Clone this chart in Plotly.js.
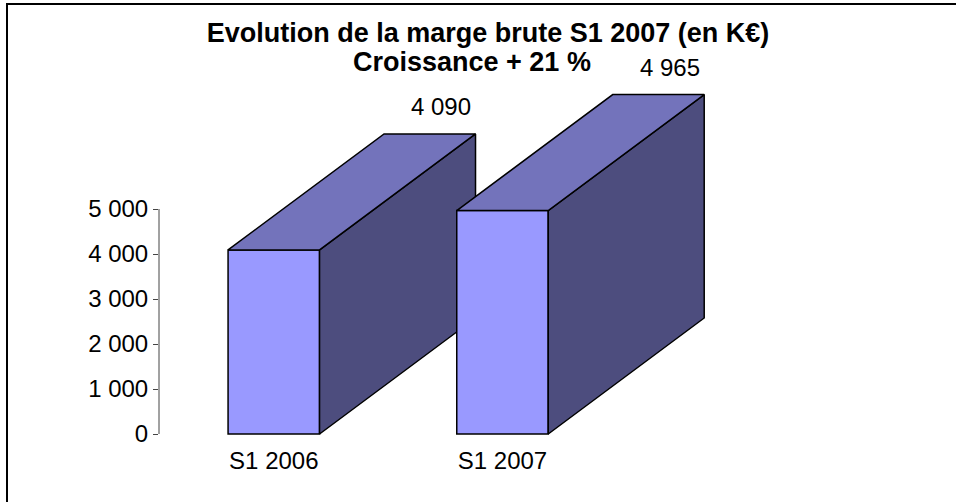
<!DOCTYPE html>
<html>
<head>
<meta charset="utf-8">
<script src="https://cdn.plot.ly/plotly-3.0.1.min.js"></script>
<style>
  html, body { margin: 0; padding: 0; background: #fff; }
  #wrap { position: relative; width: 956px; height: 502px; overflow: hidden; }
  #frame { position: absolute; left: 6px; top: 3px; width: 960px; height: 520px;
           border-left: 2px solid #000; border-top: 2px solid #000; }
  #chart { position: absolute; left: 0; top: 0; width: 956px; height: 502px; }
</style>
</head>
<body>
<div id="wrap">
  <div id="frame"></div>
  <div id="chart"></div>
</div>
<script>
// ---- data ----
const categories = ['S1 2006', 'S1 2007'];
const values = [4090, 4965];
const valueLabels = ['4 090', '4 965'];
const yTickVals = [0, 1000, 2000, 3000, 4000, 5000];
const yTickText = ['0', '1 000', '2 000', '3 000', '4 000', '5 000'];
const titleLine1 = 'Evolution de la marge brute S1 2007 (en K€)';
const titleLine2 = 'Croissance + 21 %';

// ---- style ----
const FONT = 'Liberation Sans, Arial, sans-serif';
const BAR_W = 0.40;      // front face width (x units)
const DEPTH_X = 0.682;   // 3D depth offset (x units)
const DEPTH_Y = 2578;    // 3D depth offset (y units)
const FRONT = '#9999FF', TOP = '#7373BB', SIDE = '#4D4D7E';
const EDGE = {color: '#000', width: 1.5};
const X_RANGE = [-0.502, 2.913];
const Y_RANGE = [-44.44, 8755.6];

const traces = [];
const annotations = [];
categories.forEach((cat, i) => {
  const sfx = i === 0 ? '' : String(i + 1);
  const xa = 'x' + sfx, ya = 'y' + sfx;
  const v = values[i];
  const xl = i - BAR_W / 2, xr = i + BAR_W / 2;
  // side face
  traces.push({type: 'scatter', mode: 'lines', xaxis: xa, yaxis: ya, hoverinfo: 'skip',
    x: [xr, xr + DEPTH_X, xr + DEPTH_X, xr, xr],
    y: [0, DEPTH_Y, v + DEPTH_Y, v, 0],
    fill: 'toself', fillcolor: SIDE, line: EDGE, showlegend: false});
  // top face
  traces.push({type: 'scatter', mode: 'lines', xaxis: xa, yaxis: ya, hoverinfo: 'skip',
    x: [xl, xl + DEPTH_X, xr + DEPTH_X, xr, xl],
    y: [v, v + DEPTH_Y, v + DEPTH_Y, v, v],
    fill: 'toself', fillcolor: TOP, line: EDGE, showlegend: false});
  // front face
  traces.push({type: 'bar', xaxis: xa, yaxis: ya, x: [i], y: [v], width: BAR_W,
    marker: {color: FRONT, line: EDGE}, showlegend: false, name: cat});
  // value label
  annotations.push({text: valueLabels[i], showarrow: false, xref: 'x', yref: 'y',
    x: i + DEPTH_X + 0.05, y: v + DEPTH_Y, xanchor: 'center', yanchor: 'bottom', yshift: 12,
    font: {family: FONT, size: 24, color: '#000'}});
});

annotations.push({text: titleLine2, showarrow: false, xref: 'paper', yref: 'paper',
  x: (472 - 159) / 781, y: (436 - 62) / 396, xanchor: 'center', yanchor: 'middle',
  font: {family: FONT, size: 27, color: '#000', weight: 'bold'}});

const layout = {
  width: 956, height: 502,
  margin: {l: 159, r: 16, t: 40, b: 66},
  paper_bgcolor: 'rgba(0,0,0,0)', plot_bgcolor: 'rgba(0,0,0,0)',
  showlegend: false,
  title: {text: titleLine1, font: {family: FONT, size: 27, color: '#000', weight: 'bold'},
          x: 488 / 956, xanchor: 'center', y: 1 - 33 / 502, yanchor: 'middle', yref: 'container'},
  annotations: annotations,
  xaxis: {type: 'linear', range: X_RANGE, tickvals: [0, 1], ticktext: categories,
    showgrid: false, zeroline: false, showline: false, ticks: '',
    tickfont: {family: FONT, size: 24, color: '#000'}, ticklabelstandoff: 8, fixedrange: true},
  yaxis: {type: 'linear', range: Y_RANGE, tickvals: yTickVals, ticktext: yTickText,
    showgrid: false, zeroline: false, showline: false, ticks: 'outside', ticklen: 5,
    tickcolor: '#444', tickwidth: 1,
    tickfont: {family: FONT, size: 24, color: '#000'}, fixedrange: true},
  xaxis2: {type: 'linear', overlaying: 'x', range: X_RANGE, visible: false},
  yaxis2: {type: 'linear', overlaying: 'y', range: Y_RANGE, visible: false},
  shapes: [{type: 'line', xref: 'paper', yref: 'y', x0: 0, x1: 0,
    y0: yTickVals[0], y1: yTickVals[yTickVals.length - 1], line: {color: '#444', width: 1}}]
};

Plotly.newPlot('chart', traces, layout, {displayModeBar: false, staticPlot: true});
</script>
</body>
</html>
